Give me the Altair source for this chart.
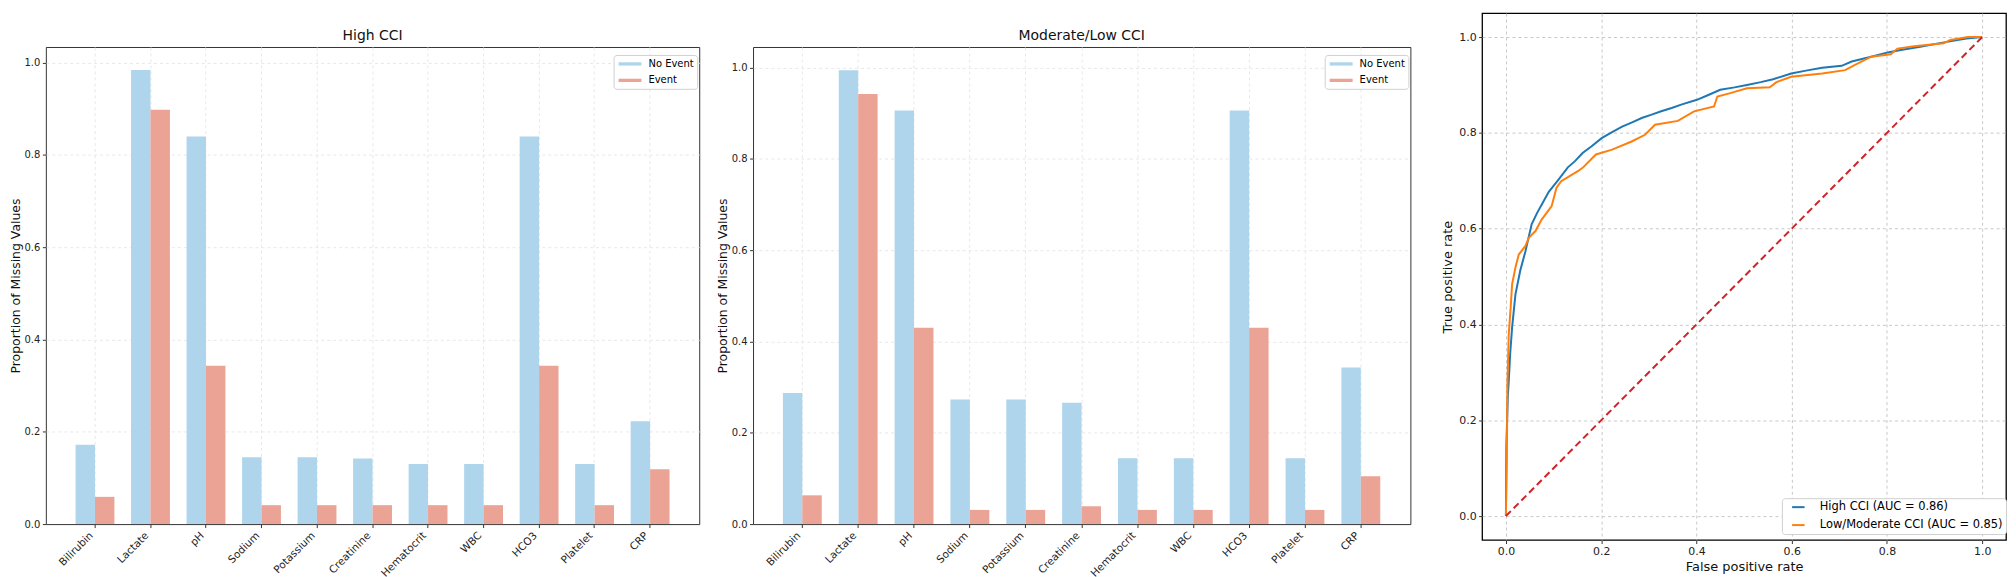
import pandas as pd
import altair as alt

labs = ['Bilirubin', 'Lactate', 'pH', 'Sodium', 'Potassium', 'Creatinine',
        'Hematocrit', 'WBC', 'HCO3', 'Platelet', 'CRP']
groups = ['No Event', 'Event']
group_colors = ['#AED5EC', '#EBA395']

# proportion of missing values per lab
high_no_event = [0.172, 0.984, 0.840, 0.145, 0.145, 0.142, 0.130, 0.130, 0.840, 0.130, 0.223]
high_event = [0.059, 0.898, 0.343, 0.041, 0.041, 0.041, 0.041, 0.041, 0.343, 0.041, 0.119]
low_no_event = [0.287, 0.994, 0.906, 0.273, 0.273, 0.266, 0.144, 0.144, 0.906, 0.144, 0.343]
low_event = [0.063, 0.942, 0.430, 0.031, 0.031, 0.039, 0.031, 0.031, 0.430, 0.031, 0.105]

high_fpr = [0, 0.001, 0.004, 0.006, 0.009, 0.013, 0.020, 0.030, 0.041, 0.054, 0.065,
            0.075, 0.090, 0.110, 0.130, 0.145, 0.161, 0.180, 0.201, 0.222, 0.244,
            0.265, 0.285, 0.306, 0.326, 0.348, 0.368, 0.401, 0.425, 0.450, 0.480,
            0.506, 0.535, 0.561, 0.599, 0.630, 0.664, 0.705, 0.726, 0.767, 0.802,
            0.829, 0.870, 0.926, 0.967, 1.0]
high_tpr = [0, 0.150, 0.250, 0.283, 0.340, 0.394, 0.463, 0.512, 0.553, 0.609, 0.632,
            0.650, 0.677, 0.702, 0.728, 0.741, 0.758, 0.772, 0.789, 0.801, 0.813,
            0.822, 0.831, 0.838, 0.845, 0.852, 0.859, 0.869, 0.879, 0.890, 0.895,
            0.900, 0.906, 0.912, 0.924, 0.930, 0.936, 0.940, 0.949, 0.959, 0.968,
            0.973, 0.980, 0.990, 0.997, 1.0]
low_fpr = [0, 0.002, 0.003, 0.006, 0.010, 0.013, 0.020, 0.027, 0.041, 0.048, 0.062,
           0.075, 0.096, 0.106, 0.116, 0.151, 0.161, 0.189, 0.223, 0.264, 0.292,
           0.313, 0.361, 0.395, 0.437, 0.444, 0.471, 0.506, 0.554, 0.568, 0.599,
           0.664, 0.712, 0.733, 0.767, 0.808, 0.822, 0.857, 0.919, 0.933, 0.970, 1.0]
low_tpr = [0, 0.120, 0.270, 0.380, 0.436, 0.484, 0.519, 0.546, 0.564, 0.581, 0.595,
           0.619, 0.647, 0.685, 0.699, 0.720, 0.727, 0.755, 0.765, 0.782, 0.796,
           0.817, 0.825, 0.845, 0.855, 0.876, 0.883, 0.893, 0.895, 0.906, 0.917,
           0.924, 0.931, 0.942, 0.959, 0.964, 0.976, 0.981, 0.987, 0.994, 1.0, 1.0]
roc_names = ['High CCI (AUC = 0.86)', 'Low/Moderate CCI (AUC = 0.85)']
roc_colors = ['#1f77b4', '#ff7f0e']
chance = [0, 1]

ticks = [0, 0.2, 0.4, 0.6, 0.8, 1.0]

# hide the y grid line that sits on the bottom frame
no_zero_grid = alt.condition('datum.value == 0', alt.value(0), alt.value(1))


# one grouped bar panel
def bar_panel(no_event, event, title, ymax, width, height=479):
    df = pd.DataFrame({
        'Lab': labs * 2,
        'Group': [groups[0]] * len(labs) + [groups[1]] * len(labs),
        'Value': no_event + event,
    })
    return alt.Chart(df).mark_bar().encode(
        x=alt.X('Lab:N', sort=labs, title=None,
                scale=alt.Scale(paddingInner=0.3, paddingOuter=0.535),
                axis=alt.Axis(labelAngle=-45, labelAlign='right', labelBaseline='top',
                              labelOffset=-7, labelFontSize=10.5, grid=True,
                              gridDash=[3, 3], gridColor='#e8e8e8', bandPosition=0.5)),
        xOffset=alt.XOffset('Group:N', sort=groups),
        y=alt.Y('Value:Q', title='Proportion of Missing Values',
                scale=alt.Scale(domain=[0, ymax], nice=False),
                axis=alt.Axis(values=ticks, format='.1f', labelFontSize=10,
                              titleFontSize=12.5, titlePadding=2,
                              gridDash=[3, 3], gridColor='#e8e8e8',
                              gridOpacity=no_zero_grid)),
        color=alt.Color('Group:N', sort=groups,
                        scale=alt.Scale(domain=groups, range=group_colors),
                        legend=alt.Legend(title=None, orient='none',
                                          legendX=width - 86, legendY=8,
                                          symbolType='M-2.3,-0.33H2.3V0.33H-2.3Z',
                                          symbolSize=100, symbolOffset=7.5,
                                          labelOffset=12.5, labelFontSize=10,
                                          fillColor='white', strokeColor='#d0d0d0',
                                          cornerRadius=3, padding=3, rowPadding=5.5)),
    ).properties(
        width=width, height=height,
        title=alt.TitleParams(title, fontSize=14, fontWeight='normal',
                              offset=4, color='#111'),
    )


p1 = bar_panel(high_no_event, high_event, 'High CCI', 1.034, 656)
p2 = bar_panel(low_no_event, low_event, 'Moderate/Low CCI', 1.045, 660)

# empty strip that pushes the bar panels below the top of the ROC panel
spacer = alt.Chart(pd.DataFrame({'v': [0]})).mark_point(opacity=0).encode(
    x=alt.value(0), y=alt.value(0)
).properties(width=10, height=14,
             view=alt.ViewBackground(stroke='transparent'))

roc_df = pd.DataFrame({
    'FPR': high_fpr + low_fpr,
    'TPR': high_tpr + low_tpr,
    'Model': [roc_names[0]] * len(high_fpr) + [roc_names[1]] * len(low_fpr),
    'step': list(range(len(high_fpr))) + list(range(len(low_fpr))),
})
diag_df = pd.DataFrame({'FPR': chance, 'TPR': chance})

roc_w, roc_h = 526, 529
xs = alt.Scale(domain=[-0.05, 1.05], nice=False, zero=False)
ys = alt.Scale(domain=[-0.05, 1.05], nice=False, zero=False)

curves = alt.Chart(roc_df).mark_line(strokeWidth=2).encode(
    x=alt.X('FPR:Q', scale=xs, title='False positive rate',
            axis=alt.Axis(values=ticks, format='.1f', labelFontSize=11,
                          titleFontSize=13, gridDash=[3, 3], gridColor='#c8c8c8')),
    y=alt.Y('TPR:Q', scale=ys, title='True positive rate',
            axis=alt.Axis(values=ticks, format='.1f', labelFontSize=11,
                          titleFontSize=13, gridDash=[3, 3], gridColor='#c8c8c8')),
    color=alt.Color('Model:N', sort=roc_names,
                    scale=alt.Scale(domain=roc_names, range=roc_colors),
                    legend=alt.Legend(title=None, orient='none',
                                      legendX=roc_w - 225, legendY=roc_h - 42,
                                      symbolType='M-1.25,0H1.25', symbolSize=100,
                                      symbolStrokeWidth=2, symbolOffset=7.5,
                                      labelOffset=15.5, labelFontSize=11.5,
                                      labelLimit=400,
                                      fillColor='white', strokeColor='#d0d0d0',
                                      cornerRadius=3, padding=3, rowPadding=6)),
    order='step:Q',
)

diag = alt.Chart(diag_df).mark_line(color='#cc2529', strokeWidth=2,
                                    strokeDash=[7, 4]).encode(
    x=alt.X('FPR:Q', scale=xs),
    y=alt.Y('TPR:Q', scale=ys),
)

roc = alt.layer(curves, diag).properties(
    width=roc_w, height=roc_h,
    view=alt.ViewBackground(stroke='black', strokeWidth=1.3),
)

bars = alt.hconcat(p1, p2, spacing=15).resolve_scale(color='independent')
left = alt.vconcat(spacer, bars, spacing=0)
chart = alt.hconcat(left, roc, spacing=29).resolve_scale(
    color='independent'
).properties(padding=0).configure(
    font='DejaVu Sans'
).configure_view(
    stroke='#333333', strokeWidth=1
).configure_axis(
    domain=False, tickSize=3.5, tickColor='#333333', labelColor='#222222',
    titleColor='#111111', titleFontWeight='normal', labelPadding=2.5, titlePadding=4,
)

chart.save('out.html', embed_options={'renderer': 'svg', 'actions': False})
